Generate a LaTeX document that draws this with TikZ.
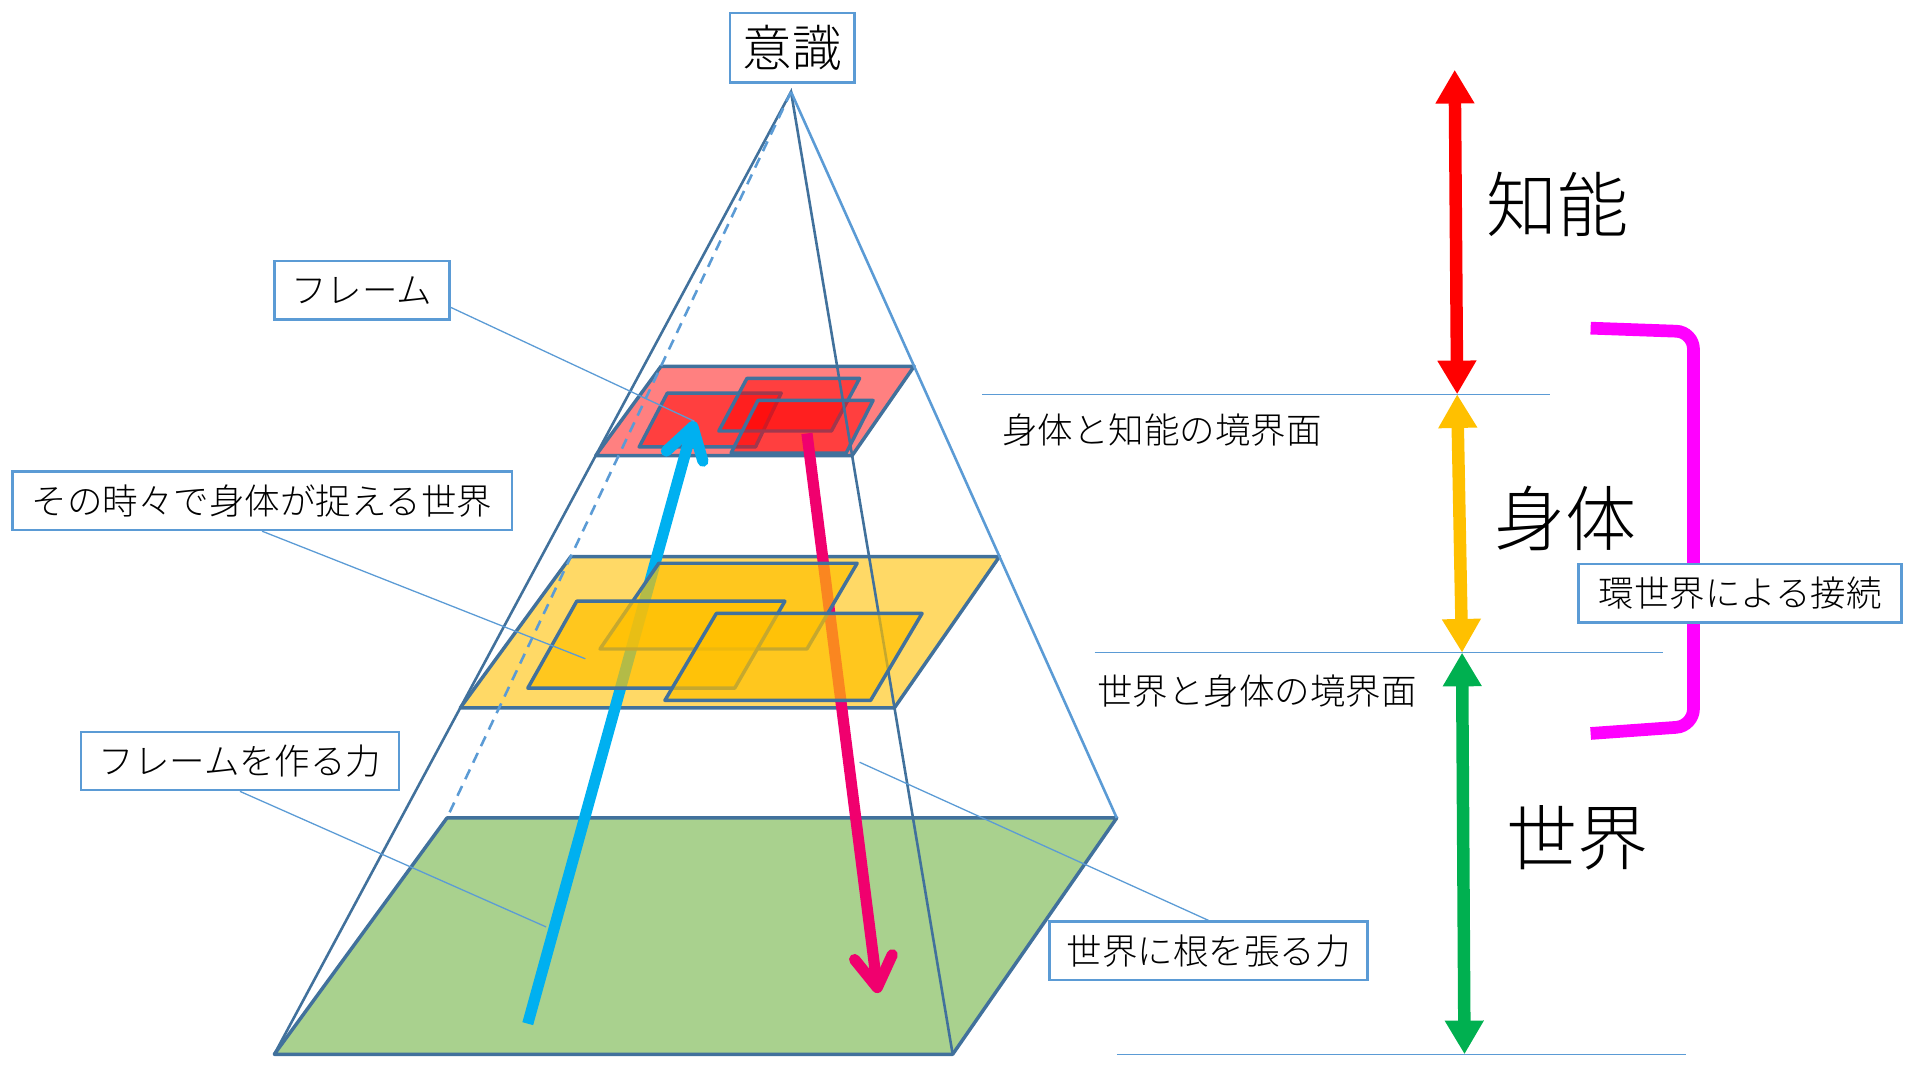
\documentclass[tikz,border=0pt]{standalone}
\usepackage{fontspec}
\IfFontExistsTF{Noto Sans CJK JP Light}
    {\setmainfont{Noto Sans CJK JP Light}}
    {\setmainfont{Noto Sans CJK JP}}
\usepackage{tikz}
\usetikzlibrary{arrows.meta,calc}
\definecolor{edgedark}{RGB}{65,113,156}
\definecolor{edgelight}{RGB}{91,155,213}
\definecolor{worldgreen}{RGB}{169,209,142}
\definecolor{bodyyellow}{RGB}{255,217,102}
\definecolor{framered}{RGB}{255,128,128}
\definecolor{arrowcyan}{RGB}{0,176,240}
\definecolor{arrowpink}{RGB}{240,0,110}
\definecolor{arrowred}{RGB}{255,0,0}
\definecolor{arroworange}{RGB}{255,192,0}
\definecolor{arrowgreen}{RGB}{0,176,80}
\definecolor{bracketpink}{RGB}{255,0,255}

\tikzset{
    plane/.style={draw=edgedark, line width=1.6pt, line join=round},
    subplane/.style={draw=edgedark, line width=1.6pt, line join=round, fill opacity=0.7},
    callout/.style={draw=edgelight, line width=0.6pt},
    labelbox/.style={draw=edgelight, line width=1.2pt, fill=white, inner sep=0pt,
        minimum height=0.95cm, font=\fontsize{16.5}{18}\selectfont},
    levelarrow/.style={line width=5.8pt,
        {Triangle[length=0.55cm,width=0.6cm]}-{Triangle[length=0.55cm,width=0.6cm]}},
    forcearrow/.style={line width=5.2pt,
        -{Straight Barb[length=0.5cm,width=0.62cm,line cap=round,line join=round]}},
    bigword/.style={font=\fontsize{33}{36}\selectfont},
    boundary/.style={font=\fontsize{16.5}{18}\selectfont},
}

\begin{document}
\begin{tikzpicture}[scale=2]
    %% Background
    \useasboundingbox (0,0) rectangle (15.68,8.82);
    %% Pyramid
    \coordinate (apex) at (6.46,8.07);
    \coordinate (bl) at (2.24,0.21);
    \coordinate (br) at (7.78,0.21);
    \coordinate (tr) at (9.12,2.14);
    \coordinate (tl) at (3.65,2.14);
    %% Planes
    \draw[plane, fill=worldgreen] (bl) -- (br) -- (tr) -- (tl) -- cycle;
    \foreach \t/\c in {0.64/bodyyellow, 0.378/framered}
        \draw[plane, fill=\c] ($(apex)!\t!(bl)$) -- ($(apex)!\t!(br)$)
            -- ($(apex)!\t!(tr)$) -- ($(apex)!\t!(tl)$) -- cycle;
    %% Frames
    \draw[subplane, fill=red, fill opacity=0.5] (5.45,5.61) -- (6.38,5.61) -- (6.17,5.17) -- (5.22,5.17) -- cycle;
    \draw[subplane, fill=red, fill opacity=0.5] (6.10,5.73) -- (7.02,5.73) -- (6.79,5.30) -- (5.87,5.30) -- cycle;
    \draw[subplane, fill=red, fill opacity=0.5] (6.19,5.55) -- (7.13,5.55) -- (6.91,5.12) -- (5.97,5.12) -- cycle;
    %% Edges
    \draw[edgedark, line width=1.2pt] (bl) -- (apex) -- (br);
    \draw[edgelight, line width=1.2pt] (apex) -- (tr);
    \draw[edgelight, line width=1.2pt, dash pattern=on 5pt off 3.5pt] (apex) -- (tl);
    %% Force
    \coordinate (upfrom) at (4.31,0.46);
    \coordinate (upto) at (5.67,5.38);
    \coordinate (downfrom) at (6.59,5.28);
    \coordinate (downto) at (7.17,0.71);
    \draw[forcearrow, arrowcyan] (upfrom) -- (upto);
    \draw[forcearrow, arrowpink] (downfrom) -- (downto);
    \draw[subplane, fill=arroworange] (5.38,4.22) -- (7.00,4.22) -- (6.59,3.52) -- (4.90,3.52) -- cycle;
    \draw[subplane, fill=arroworange] (4.71,3.91) -- (6.41,3.91) -- (6.00,3.20) -- (4.31,3.20) -- cycle;
    \draw[subplane, fill=arroworange] (5.85,3.81) -- (7.53,3.81) -- (7.11,3.10) -- (5.43,3.10) -- cycle;
    %% Levels
    \draw[callout] (8.02,5.60) -- (12.66,5.60);
    \draw[callout] (8.94,3.49) -- (13.58,3.49);
    \draw[callout] (9.12,0.21) -- (13.77,0.21);
    \coordinate (mind) at (11.88,8.25);
    \coordinate (upper) at (11.90,5.60);
    \coordinate (lower) at (11.94,3.49);
    \coordinate (ground) at (11.96,0.21);
    \draw[levelarrow, arrowred] (mind) -- (upper);
    \draw[levelarrow, arroworange] (upper) -- (lower);
    \draw[levelarrow, arrowgreen] (lower) -- (ground);
    \node[bigword] (intel) at (12.72,7.15) {知能};
    \node[bigword] (body) at (12.785,4.59) {身体};
    \node[bigword] (world) at (12.885,1.98) {世界};
    \node[boundary] (upperface) at (9.49,5.31) {身体と知能の境界面};
    \node[boundary] (lowerface) at (10.265,3.18) {世界と身体の境界面};
    %% Bracket
    \draw[bracketpink, line width=5.9pt, rounded corners=8pt]
        (12.99,6.14) -- (13.83,6.11) -- (13.83,2.89) -- (12.99,2.83);
    \node[labelbox, minimum width=5.28cm] (lblumwelt) at (14.21,3.975) {環世界による接続};
    %% Labels
    \node[draw=edgelight, line width=1.2pt, fill=white, inner sep=0pt, minimum width=2.04cm,
        minimum height=1.14cm, font=\fontsize{23}{26}\selectfont] (conscious) at (6.47,8.43) {意識};
    \node[labelbox, minimum width=2.86cm] (lblframe) at (2.955,6.45) {フレーム};
    \node[labelbox, minimum width=8.16cm] (lblnow) at (2.14,4.73) {その時々で身体が捉える世界};
    \node[labelbox, minimum width=5.2cm] (lblmake) at (1.96,2.605) {フレームを作る力};
    \node[labelbox, minimum width=5.2cm] (lblroot) at (9.87,1.055) {世界に根を張る力};
    \coordinate (nowpt) at (4.78,3.44);
    \coordinate (makept) at (4.46,1.25);
    \coordinate (rootpt) at (7.02,2.595);
    \draw[callout] ([yshift=-0.14cm]lblframe.east) -- (upto);
    \draw[callout] (lblnow.south) -- (nowpt);
    \draw[callout] (lblmake.south) -- (makept);
    \draw[callout] (lblroot.north) -- (rootpt);
\end{tikzpicture}
\end{document}
